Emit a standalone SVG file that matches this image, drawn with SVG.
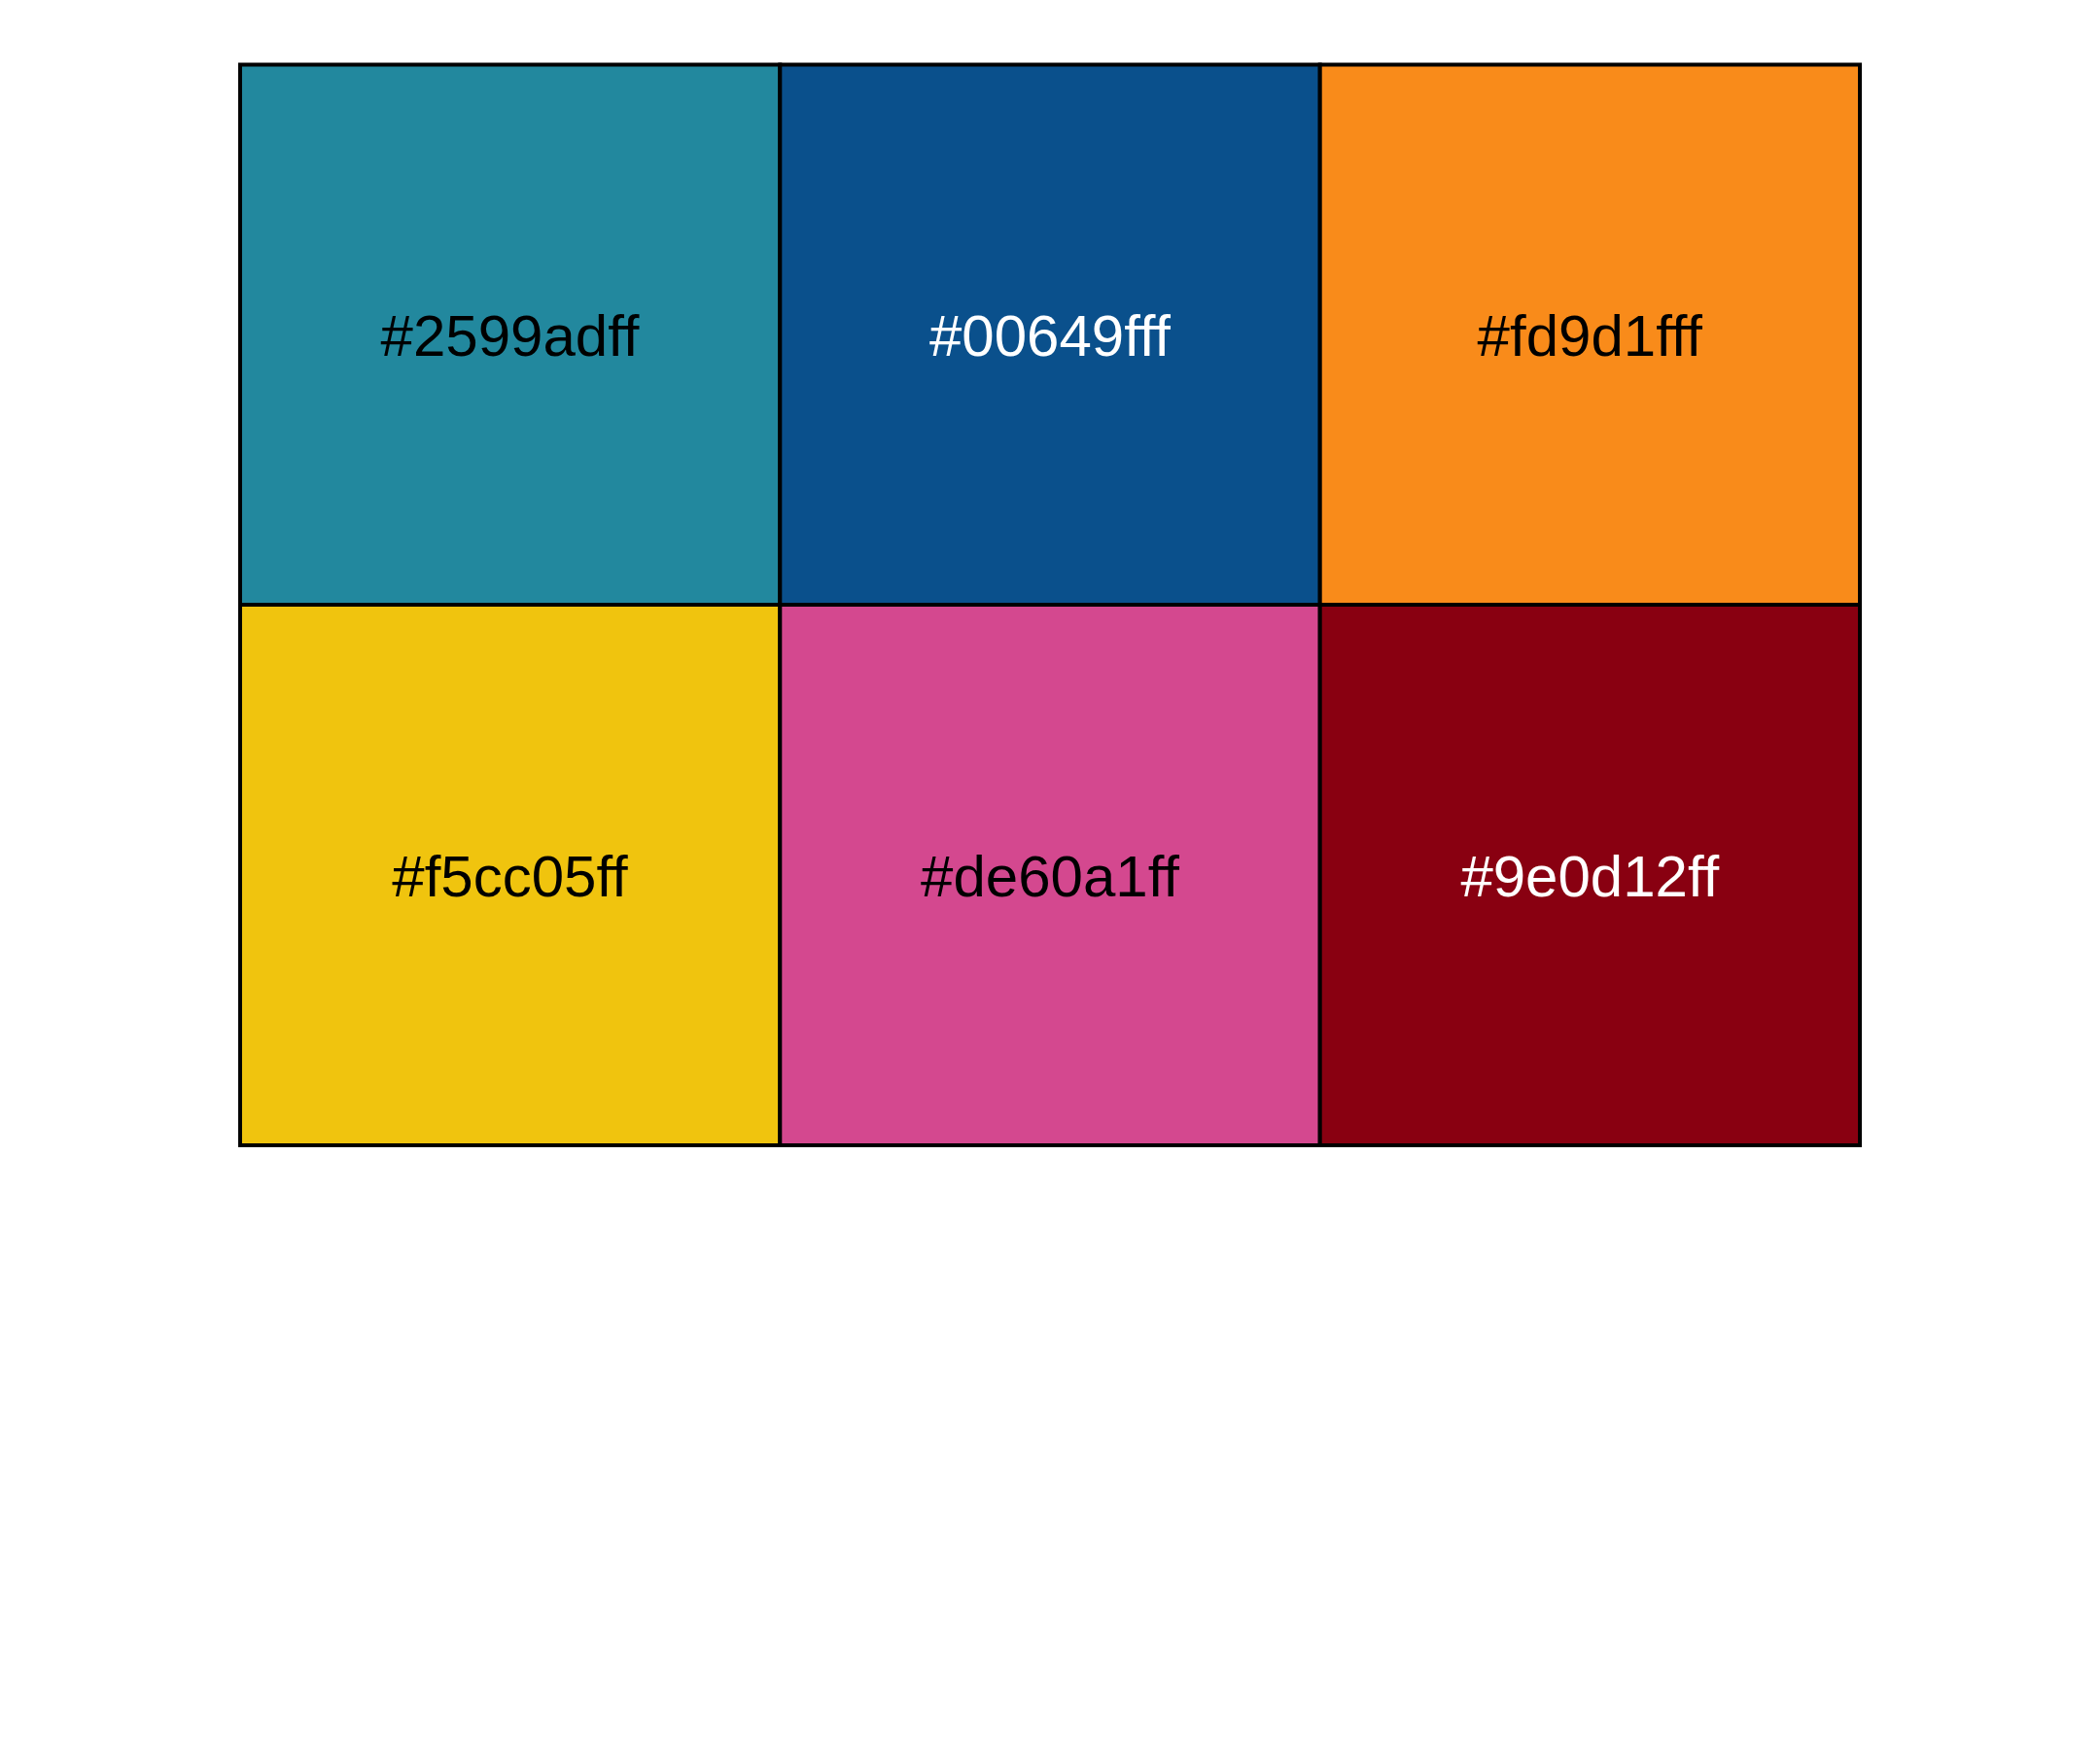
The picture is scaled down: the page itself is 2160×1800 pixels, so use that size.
<svg xmlns="http://www.w3.org/2000/svg" width="2160" height="1800" viewBox="0 0 2160 1800">
<style>
.cell{stroke:#000;stroke-width:4}
.lbl{font-family:"Liberation Sans",Arial,sans-serif;font-size:60px;text-anchor:middle}
.dark{fill:#000}
.light{fill:#fff}
</style>
<rect width="2160" height="1800" fill="#fff"/>
<g id="cell-2599adff">
<rect class="cell" x="247" y="66.5" width="555.3" height="555.5" fill="#22889e"/>
<text class="lbl dark" x="524.5" y="366">#2599adff</text>
</g>
<g id="cell-00649fff">
<rect class="cell" x="802.3" y="66.5" width="555.4" height="555.5" fill="#0a508c"/>
<text class="lbl light" x="1080" y="366">#00649fff</text>
</g>
<g id="cell-fd9d1fff">
<rect class="cell" x="1357.7" y="66.5" width="555.3" height="555.5" fill="#f98b1a"/>
<text class="lbl dark" x="1635.3" y="366">#fd9d1fff</text>
</g>
<g id="cell-f5cc05ff">
<rect class="cell" x="247" y="622" width="555.3" height="556" fill="#f0c40e"/>
<text class="lbl dark" x="524.5" y="921.7">#f5cc05ff</text>
</g>
<g id="cell-de60a1ff">
<rect class="cell" x="802.3" y="622" width="555.4" height="556" fill="#d4488f"/>
<text class="lbl dark" x="1080" y="921.7">#de60a1ff</text>
</g>
<g id="cell-9e0d12ff">
<rect class="cell" x="1357.7" y="622" width="555.3" height="556" fill="#890011"/>
<text class="lbl light" x="1635.3" y="921.7">#9e0d12ff</text>
</g>
<g id="connectors"></g>
</svg>
